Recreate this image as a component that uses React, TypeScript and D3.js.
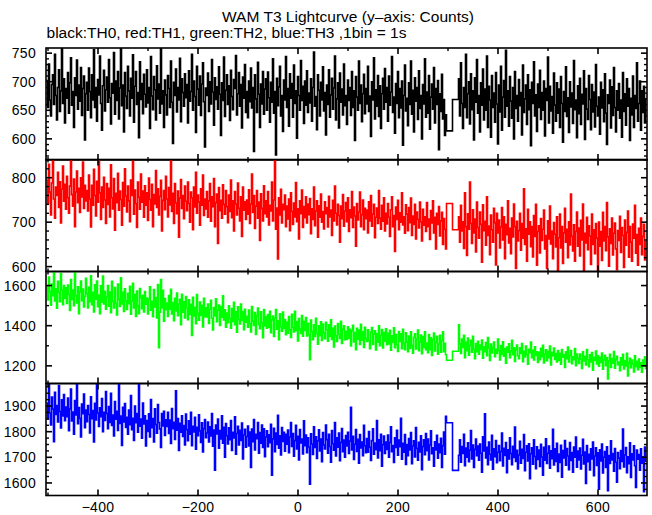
import React from "react";
import * as d3 from "d3";

// ---- data (counts per bin; bins of binSec seconds) ----
const binSec = 2;
const segAStart = -503;
const segBStart = 321;
const gapEdges = [297, 309, 321];
const xMajorTicks = [-400, -200, 0, 200, 400, 600];
const xMinorTicks = [-500, -300, -100, 100, 300, 500];

const th0SegA = [
  702, 655, 731, 668, 640, 695, 712, 660, 748, 676, 633, 690, 721, 648, 684, 759, 662, 705, 628, 688,
  671, 716, 645, 698, 742, 659, 683, 620, 707, 676, 738, 652, 694, 666, 725, 641, 688, 710, 598, 679,
  699, 650, 724, 683, 637, 712, 668, 756, 655, 690, 631, 704, 677, 745, 662, 615, 693, 720, 649, 686,
  708, 664, 739, 672, 626, 697, 680, 751, 643, 701, 667, 718, 635, 689, 759, 658, 694, 612, 716, 675,
  653, 727, 684, 640, 706, 671, 747, 629, 692, 718, 660, 681, 602, 735, 669, 697, 644, 713, 678, 656,
  721, 663, 690, 618, 744, 675, 651, 709, 686, 633, 728, 670, 696, 645, 759, 661, 684, 620, 703, 677,
  642, 711, 688, 655, 736, 664, 592, 699, 676, 722, 647, 690, 668, 741, 630, 705, 681, 657, 714, 672,
  695, 628, 719, 666, 683, 748, 650, 701, 674, 611, 727, 687, 659, 710, 641, 696, 733, 665, 586, 689,
  676, 715, 648, 700, 661, 739, 682, 624, 707, 669, 691, 652, 726, 678, 606, 698, 667, 743, 639, 685,
  712, 660, 693, 632, 720, 674, 651, 704, 688, 746, 642, 679, 716, 657, 695, 619, 708, 671, 730, 646,
  683, 637, 701, 665, 724, 654, 690, 578, 712, 670, 646, 734, 678, 620, 696, 661, 718, 643, 687, 705,
  650, 717, 672, 629, 699, 664, 740, 645, 683, 572, 706, 658, 691, 727, 640, 676, 613, 703, 668, 744,
  655, 688, 622, 714, 671, 697, 638, 729, 662, 684, 601, 709, 676, 650, 737, 667, 692, 627, 701, 659,
  719, 646, 680, 663, 705, 631, 690, 752, 657, 674, 616, 712, 685, 640, 699, 668, 726, 649, 681, 607,
  694, 660, 721, 638, 677, 706, 652, 689, 745, 633, 670, 698, 619, 715, 664, 687, 642, 731, 658, 676,
  625, 703, 667, 690, 641, 718, 655, 684, 597, 709, 673, 650, 736, 662, 694, 630, 679, 713, 644, 688,
  661, 727, 648, 675, 604, 700, 668, 742, 635, 686, 657, 711, 639, 693, 618, 679, 706, 652, 723, 664,
  690, 631, 710, 659, 682, 744, 646, 673, 610, 697, 662, 718, 637, 688, 654, 701, 589, 676, 729, 649,
  671, 623, 698, 660, 736, 643, 685, 612, 707, 666, 690, 634, 719, 653, 676, 600, 695, 661, 740, 638,
  682, 645, 711, 617, 673, 696, 652, 725, 628, 688, 660, 702, 581, 679, 648, 713, 635, 669, 606, 642,
];
const th0Gap = [614, 669];
const th0SegB = [
  705, 640, 733, 662, 618, 690, 655, 748, 637, 679, 700, 626, 714, 651, 684, 598, 707, 664, 739, 645,
  676, 612, 698, 659, 722, 633, 687, 650, 745, 620, 692, 668, 603, 711, 655, 680, 629, 716, 661, 591,
  694, 647, 727, 615, 673, 702, 638, 755, 657, 684, 622, 709, 666, 636, 690, 600, 718, 653, 676, 631,
  704, 658, 681, 607, 729, 646, 670, 694, 625, 712, 651, 686, 588, 699, 662, 735, 640, 677, 613, 696,
  655, 720, 634, 681, 650, 701, 605, 688, 667, 743, 628, 692, 649, 674, 610, 715, 659, 631, 698, 645,
  687, 620, 709, 662, 594, 683, 648, 726, 639, 672, 611, 700, 656, 680, 627, 737, 651, 668, 602, 693,
  644, 706, 625, 678, 661, 719, 599, 688, 652, 634, 711, 669, 616, 695, 647, 682, 621, 730, 657, 640,
  673, 608, 699, 654, 686, 630, 714, 645, 590, 677, 662, 703, 619, 691, 641, 725, 655, 612, 684, 650,
  697, 636, 668, 603, 716, 648, 679, 624, 705, 657, 688, 597, 671, 642, 710, 620, 676, 653, 733, 631,
  662, 701, 615, 684, 646, 692, 628, 670,
];

const th1SegA = [
  795, 742, 830, 768, 716, 788, 841, 752, 709, 779, 760, 812, 733, 791, 698, 774, 826, 747, 785, 729,
  803, 755, 720, 781, 841, 762, 736, 797, 690, 768, 815, 744, 776, 722, 800, 757, 835, 731, 783, 748,
  771, 725, 806, 752, 689, 783, 738, 819, 760, 714, 792, 745, 841, 766, 706, 779, 733, 801, 750, 697,
  787, 740, 776, 712, 829, 755, 730, 798, 682, 765, 744, 810, 727, 770, 751, 693, 789, 736, 820, 759,
  723, 781, 748, 701, 795, 760, 837, 718, 772, 742, 688, 790, 756, 729, 808, 745, 770, 711, 782, 738,
  766, 704, 799, 751, 727, 785, 690, 762, 741, 816, 733, 775, 716, 758, 794, 680, 749, 771, 728, 803,
  752, 712, 778, 739, 841, 724, 765, 697, 787, 743, 719, 770, 666, 754, 796, 731, 760, 708, 781, 747,
  726, 790, 742, 700, 768, 755, 683, 779, 734, 812, 720, 761, 745, 693, 775, 738, 806, 715, 752, 730,
  769, 711, 748, 787, 702, 757, 735, 798, 690, 744, 763, 652, 778, 726, 749, 709, 784, 740, 718, 771,
  735, 699, 761, 724, 795, 710, 748, 680, 769, 741, 716, 788, 731, 703, 757, 668, 779, 727, 746, 706,
  750, 718, 773, 697, 741, 808, 722, 760, 686, 736, 771, 709, 745, 659, 764, 731, 703, 782, 719, 748,
  712, 769, 694, 738, 725, 790, 703, 750, 841, 684, 732, 617, 755, 716, 774, 698, 740, 728, 761, 690,
  736, 707, 752, 681, 766, 724, 695, 743, 712, 789, 701, 730, 662, 748, 719, 772, 688, 735, 710, 757,
  698, 741, 717, 753, 674, 730, 706, 779, 692, 725, 748, 666, 737, 711, 763, 700, 724, 685, 746, 719,
  733, 689, 758, 712, 727, 670, 749, 703, 781, 720, 694, 740, 715, 655, 736, 708, 762, 691, 725, 744,
  701, 755, 679, 728, 710, 769, 688, 734, 714, 646, 742, 705, 723, 768, 690, 717, 750, 683, 731, 708,
  727, 676, 746, 703, 760, 691, 718, 740, 665, 711, 732, 697, 771, 709, 684, 738, 702, 755, 680, 720,
  696, 742, 711, 668, 728, 757, 690, 715, 634, 734, 706, 749, 683, 721, 700, 766, 694, 712, 675, 739,
  718, 681, 733, 699, 754, 670, 714, 695, 740, 662, 723, 706, 687, 745, 701, 658, 729, 693, 712, 679,
  744, 690, 707, 661, 726, 698, 748, 676, 711, 640, 720, 695, 735, 669, 703, 722, 650, 708, 684, 640,
];
const th1Gap = [742, 683];
const th1SegB = [
  712, 655, 738, 680, 701, 641, 766, 690, 625, 719, 684, 790, 697, 652, 728, 676, 707, 633, 745, 688,
  664, 723, 695, 610, 739, 681, 702, 648, 757, 670, 691, 627, 716, 683, 655, 731, 699, 604, 720, 676,
  705, 642, 689, 733, 660, 712, 618, 695, 672, 748, 653, 686, 629, 709, 667, 741, 690, 596, 702, 658,
  681, 720, 637, 697, 664, 775, 650, 685, 612, 729, 673, 701, 645, 690, 622, 715, 668, 740, 603, 679,
  692, 631, 708, 659, 684, 727, 640, 670, 596, 703, 662, 736, 651, 680, 618, 699, 673, 644, 712, 590,
  665, 718, 642, 690, 607, 676, 731, 655, 684, 620, 701, 649, 763, 668, 635, 694, 612, 679, 723, 646,
  687, 624, 704, 660, 741, 592, 675, 653, 711, 638, 692, 669, 605, 718, 650, 683, 629, 697, 664, 589,
  700, 646, 679, 614, 722, 658, 690, 636, 744, 667, 601, 685, 652, 709, 626, 675, 698, 640, 593, 681,
  659, 713, 632, 688, 670, 598, 705, 648, 677, 725, 621, 690, 655, 612, 696, 664, 738, 630, 672, 603,
  686, 650, 709, 627, 668, 695, 615, 657,
];

const th2SegA = [
  1595, 1528, 1642, 1570, 1502, 1608, 1549, 1670, 1523, 1584, 1487, 1621, 1566, 1520, 1660, 1578, 1505, 1600, 1537, 1589,
  1511, 1603, 1556, 1476, 1630, 1531, 1577, 1499, 1664, 1550, 1513, 1594, 1460, 1568, 1622, 1525, 1582, 1493, 1547, 1636,
  1560, 1488, 1591, 1520, 1649, 1505, 1566, 1468, 1604, 1532, 1622, 1495, 1553, 1460, 1599, 1517, 1647, 1508, 1571, 1482,
  1545, 1600, 1497, 1568, 1465, 1621, 1521, 1489, 1590, 1512, 1453, 1607, 1530, 1496, 1638, 1508, 1567, 1471, 1584, 1524,
  1481, 1562, 1510, 1596, 1457, 1523, 1611, 1488, 1555, 1446, 1572, 1500, 1460, 1585, 1540, 1485, 1551, 1469, 1570, 1507,
  1538, 1459, 1532, 1594, 1477, 1521, 1445, 1580, 1493, 1540, 1438, 1605, 1290, 1467, 1630, 1488, 1576, 1422, 1535, 1480,
  1513, 1446, 1550, 1482, 1581, 1458, 1515, 1425, 1537, 1473, 1563, 1450, 1508, 1531, 1405, 1556, 1467, 1519, 1439, 1545,
  1488, 1430, 1529, 1456, 1507, 1352, 1541, 1449, 1492, 1410, 1555, 1463, 1427, 1518, 1451, 1502, 1394, 1536, 1445, 1489,
  1443, 1508, 1411, 1482, 1526, 1437, 1379, 1490, 1448, 1534, 1420, 1477, 1503, 1401, 1496, 1442, 1549, 1428, 1479, 1392,
  1463, 1415, 1499, 1436, 1388, 1485, 1421, 1517, 1405, 1469, 1367, 1494, 1430, 1409, 1508, 1426, 1471, 1380, 1482, 1418,
  1447, 1393, 1478, 1411, 1369, 1496, 1422, 1401, 1465, 1356, 1450, 1488, 1406, 1385, 1469, 1415, 1340, 1480, 1399, 1446,
  1388, 1455, 1392, 1472, 1365, 1429, 1448, 1346, 1437, 1481, 1383, 1424, 1330, 1459, 1395, 1373, 1468, 1386, 1430, 1355,
  1418, 1362, 1446, 1380, 1341, 1457, 1391, 1369, 1472, 1375, 1419, 1324, 1436, 1383, 1361, 1450, 1348, 1422, 1376, 1440,
  1349, 1412, 1355, 1230, 1428, 1371, 1330, 1405, 1347, 1437, 1362, 1308, 1399, 1351, 1420, 1326, 1408, 1364, 1335, 1417,
  1380, 1323, 1404, 1346, 1429, 1331, 1387, 1294, 1398, 1350, 1322, 1411, 1356, 1337, 1422, 1311, 1383, 1400, 1330, 1372,
  1331, 1395, 1338, 1382, 1299, 1374, 1402, 1319, 1366, 1280, 1387, 1333, 1378, 1306, 1407, 1328, 1371, 1292, 1392, 1336,
  1322, 1379, 1325, 1286, 1368, 1391, 1307, 1357, 1375, 1279, 1361, 1318, 1400, 1300, 1354, 1381, 1289, 1366, 1323, 1384,
  1305, 1362, 1309, 1377, 1278, 1350, 1316, 1389, 1290, 1356, 1305, 1272, 1371, 1321, 1359, 1286, 1382, 1314, 1280, 1365,
  1318, 1271, 1349, 1287, 1370, 1302, 1263, 1342, 1360, 1284, 1335, 1378, 1276, 1319, 1353, 1260, 1346, 1292, 1369, 1281,
  1314, 1265, 1356, 1280, 1340, 1252, 1331, 1363, 1274, 1317, 1347, 1258, 1309, 1352, 1268, 1325, 1369, 1270, 1312, 1255,
];
const th2Gap = [1228, 1273];
const th2SegB = [
  1405, 1310, 1262, 1334, 1291, 1352, 1240, 1318, 1276, 1339, 1253, 1300, 1327, 1268, 1347, 1282, 1235, 1311, 1270, 1322,
  1258, 1304, 1280, 1329, 1238, 1295, 1271, 1316, 1250, 1341, 1289, 1227, 1308, 1264, 1292, 1318, 1245, 1283, 1262, 1333,
  1276, 1229, 1301, 1257, 1320, 1248, 1286, 1213, 1294, 1268, 1310, 1241, 1275, 1327, 1255, 1290, 1222, 1281, 1303, 1250,
  1235, 1290, 1262, 1311, 1221, 1273, 1244, 1299, 1256, 1208, 1283, 1265, 1318, 1240, 1278, 1229, 1295, 1252, 1270, 1217,
  1268, 1231, 1287, 1245, 1302, 1214, 1259, 1280, 1226, 1273, 1241, 1298, 1204, 1266, 1250, 1289, 1232, 1261, 1219, 1276,
  1227, 1262, 1208, 1281, 1243, 1255, 1192, 1270, 1236, 1293, 1219, 1251, 1276, 1211, 1245, 1230, 1286, 1201, 1259, 1238,
  1212, 1259, 1233, 1187, 1270, 1224, 1248, 1205, 1281, 1230, 1196, 1255, 1219, 1266, 1178, 1242, 1227, 1274, 1209, 1250,
  1198, 1243, 1217, 1264, 1183, 1229, 1252, 1201, 1240, 1135, 1225, 1258, 1192, 1236, 1213, 1271, 1188, 1231, 1247, 1206,
  1219, 1176, 1240, 1204, 1257, 1185, 1226, 1199, 1262, 1150, 1215, 1238, 1191, 1229, 1208, 1170, 1250, 1196, 1222, 1181,
  1234, 1192, 1215, 1168, 1229, 1201, 1245, 1186,
];

const th3SegA = [
  1912, 1850, 1988, 1873, 1826, 1935, 1888, 1761, 1954, 1867, 1902, 1838, 1980, 1879, 1815, 1924, 1861, 1945, 1843, 1896,
  1858, 1931, 1804, 1889, 1966, 1842, 1877, 1790, 1921, 1865, 1988, 1831, 1894, 1852, 1779, 1908, 1870, 1947, 1816, 1884,
  1839, 1902, 1867, 1795, 1936, 1851, 1882, 1760, 1911, 1846, 1988, 1873, 1820, 1893, 1858, 1929, 1800, 1876, 1844, 1957,
  1871, 1812, 1898, 1836, 1950, 1824, 1865, 1783, 1918, 1849, 1880, 1805, 1988, 1832, 1861, 1746, 1895, 1838, 1910, 1817,
  1856, 1790, 1884, 1827, 1941, 1808, 1852, 1766, 1900, 1835, 1871, 1798, 1988, 1821, 1849, 1775, 1912, 1830, 1862, 1744,
  1843, 1801, 1870, 1779, 1925, 1816, 1851, 1760, 1889, 1828, 1794, 1906, 1836, 1811, 1738, 1871, 1822, 1880, 1785, 1846,
  1820, 1876, 1793, 1845, 1754, 1890, 1812, 1837, 1770, 1960, 1806, 1851, 1727, 1833, 1798, 1862, 1781, 1824, 1748, 1869,
  1808, 1765, 1842, 1790, 1876, 1745, 1821, 1799, 1856, 1732, 1817, 1784, 1866, 1803, 1758, 1835, 1721, 1812, 1847, 1777,
  1795, 1838, 1760, 1819, 1783, 1871, 1743, 1806, 1650, 1826, 1791, 1849, 1736, 1804, 1772, 1862, 1755, 1817, 1700, 1832,
  1784, 1752, 1815, 1769, 1843, 1727, 1798, 1776, 1858, 1712, 1793, 1821, 1748, 1805, 1766, 1834, 1694, 1787, 1809, 1739,
  1781, 1822, 1744, 1799, 1660, 1810, 1761, 1847, 1729, 1790, 1773, 1836, 1716, 1797, 1755, 1826, 1738, 1811, 1702, 1779,
  1803, 1741, 1788, 1757, 1829, 1630, 1772, 1813, 1722, 1795, 1750, 1864, 1736, 1784, 1709, 1816, 1762, 1798, 1724, 1790,
  1751, 1806, 1718, 1779, 1836, 1742, 1793, 1704, 1765, 1825, 1733, 1782, 1690, 1808, 1756, 1771, 1713, 1842, 1745, 1787,
  1718, 1776, 1740, 1595, 1792, 1752, 1711, 1819, 1738, 1780, 1696, 1764, 1807, 1725, 1771, 1683, 1797, 1748, 1733, 1826,
  1769, 1716, 1790, 1742, 1681, 1804, 1753, 1728, 1836, 1705, 1776, 1739, 1795, 1687, 1758, 1812, 1722, 1767, 1700, 1785,
  1744, 1798, 1715, 1763, 1895, 1729, 1782, 1692, 1751, 1808, 1723, 1770, 1677, 1789, 1737, 1760, 1706, 1825, 1745, 1718,
  1773, 1720, 1801, 1739, 1688, 1765, 1811, 1712, 1756, 1730, 1843, 1698, 1768, 1726, 1790, 1665, 1749, 1783, 1715, 1760,
  1731, 1787, 1700, 1758, 1819, 1722, 1746, 1680, 1776, 1738, 1805, 1708, 1767, 1741, 1852, 1693, 1755, 1720, 1789, 1672,
  1750, 1706, 1773, 1729, 1797, 1675, 1744, 1764, 1701, 1816, 1735, 1689, 1759, 1721, 1784, 1652, 1742, 1768, 1710, 1793,
  1726, 1771, 1690, 1748, 1803, 1714, 1737, 1665, 1761, 1729, 1786, 1697, 1752, 1718, 1774, 1660, 1745, 1799, 1712, 1860,
];
const th3Gap = [1835, 1649];
const th3SegB = [
  1708, 1768, 1681, 1742, 1715, 1790, 1667, 1736, 1700, 1757, 1683, 1728, 1804, 1694, 1748, 1660, 1731, 1771, 1706, 1744,
  1689, 1752, 1716, 1642, 1780, 1725, 1870, 1698, 1739, 1671, 1760, 1712, 1690, 1786, 1654, 1733, 1702, 1765, 1679, 1720,
  1746, 1687, 1722, 1795, 1666, 1735, 1707, 1758, 1640, 1729, 1694, 1776, 1715, 1671, 1743, 1699, 1818, 1684, 1727, 1655,
  1709, 1762, 1677, 1731, 1696, 1789, 1648, 1720, 1745, 1686, 1753, 1617, 1714, 1737, 1673, 1768, 1703, 1656, 1741, 1692,
  1728, 1664, 1751, 1701, 1630, 1739, 1689, 1772, 1676, 1716, 1744, 1658, 1725, 1695, 1809, 1670, 1733, 1684, 1755, 1645,
  1713, 1680, 1747, 1622, 1726, 1698, 1765, 1669, 1734, 1705, 1652, 1758, 1688, 1719, 1642, 1740, 1700, 1779, 1661, 1724,
  1690, 1736, 1655, 1708, 1770, 1674, 1721, 1598, 1746, 1683, 1712, 1651, 1733, 1694, 1760, 1628, 1705, 1737, 1668, 1718,
  1576, 1729, 1686, 1752, 1639, 1700, 1722, 1660, 1741, 1570, 1707, 1676, 1764, 1690, 1715, 1646, 1734, 1681, 1603, 1719,
  1697, 1656, 1726, 1684, 1810, 1662, 1709, 1738, 1640, 1702, 1675, 1757, 1621, 1714, 1690, 1745, 1667, 1582, 1728, 1693,
  1711, 1650, 1733, 1677, 1702, 1566, 1740, 1685,
];

const yMajorTH0 = [600, 650, 700, 750];
const yMajorTH1 = [600, 700, 800];
const yMajorTH2 = [1200, 1400, 1600];
const yMajorTH3 = [1600, 1700, 1800, 1900];

const titleText = "WAM T3 Lightcurve (y\u2013axis: Counts)";
const subtitleText = "black:TH0, red:TH1, green:TH2, blue:TH3 ,1bin = 1s";

// ---- layout ----
const W = 652;
const H = 515;
const left = 46;
const right = 647;
const panelTops = [48, 159.5, 271.5, 383.5];
const panelH = 112;
const font = "'Liberation Sans', Arial, Helvetica, sans-serif";

type Bin = { x0: number; x1: number; v: number };

function buildBins(segA: number[], gap: number[], segB: number[]): Bin[] {
  const bins: Bin[] = [];
  segA.forEach((v, i) => {
    const x0 = segAStart + i * binSec;
    bins.push({ x0, x1: x0 + binSec, v });
  });
  gap.forEach((v, i) => bins.push({ x0: gapEdges[i], x1: gapEdges[i + 1], v }));
  segB.forEach((v, i) => {
    const x0 = segBStart + i * binSec;
    bins.push({ x0, x1: x0 + binSec, v });
  });
  return bins;
}

const panels = [
  { id: "th0", color: "#000000", bins: buildBins(th0SegA, th0Gap, th0SegB), domain: [563, 759], major: yMajorTH0, minorStep: 10 },
  { id: "th1", color: "#ff0000", bins: buildBins(th1SegA, th1Gap, th1SegB), domain: [589, 841], major: yMajorTH1, minorStep: 20 },
  { id: "th2", color: "#00ff00", bins: buildBins(th2SegA, th2Gap, th2SegB), domain: [1112, 1670], major: yMajorTH2, minorStep: 100 },
  { id: "th3", color: "#0000ff", bins: buildBins(th3SegA, th3Gap, th3SegB), domain: [1551, 1988], major: yMajorTH3, minorStep: 25 },
];

const x = d3.scaleLinear().domain([-504, 698]).range([left, right]);

export default function App() {
  return (
    <div style={{ position: "absolute", left: 0, top: 0, width: W, height: H, background: "#fff" }}>
      <svg width={W} height={H} style={{ display: "block" }}>
        <rect x={0} y={0} width={W} height={H} fill="#fff" />
        <text x={348} y={22} textAnchor="middle" fontFamily={font} fontSize={14} textLength={252} lengthAdjust="spacingAndGlyphs">
          {titleText}
        </text>
        <text x={46.5} y={38} fontFamily={font} fontSize={14} textLength={360} lengthAdjust="spacingAndGlyphs">
          {subtitleText}
        </text>
        <defs>
          {panels.map((p, i) => (
            <clipPath id={`clip-${p.id}`} key={p.id}>
              <rect x={left} y={panelTops[i]} width={right - left} height={panelH} />
            </clipPath>
          ))}
        </defs>
        {panels.map((p, i) => {
          const top = panelTops[i];
          const bottom = top + panelH;
          const y = d3.scaleLinear().domain(p.domain).range([bottom, top]);
          const pts: [number, number][] = [];
          p.bins.forEach((b) => {
            pts.push([x(b.x0), y(b.v)]);
            pts.push([x(b.x1), y(b.v)]);
          });
          const path = d3.line()(pts) || "";
          const minor = d3
            .range(Math.ceil(p.domain[0] / p.minorStep) * p.minorStep, p.domain[1], p.minorStep)
            .filter((v) => !p.major.includes(v));
          return (
            <g key={p.id}>
              <g clipPath={`url(#clip-${p.id})`}>
                <path d={path} fill="none" stroke={p.color} strokeWidth={1.6} strokeLinejoin="miter" />
              </g>
              <rect x={left} y={top} width={right - left} height={panelH} fill="none" stroke="#000" strokeWidth={1.6} />
              {p.major.map((v) => (
                <g key={`ym${v}`}>
                  <line x1={left} x2={left + 6} y1={y(v)} y2={y(v)} stroke="#000" strokeWidth={1.6} />
                  <line x1={right} x2={right - 6} y1={y(v)} y2={y(v)} stroke="#000" strokeWidth={1.6} />
                  <text x={36} y={y(v)} dy="0.36em" textAnchor="end" fontFamily={font} fontSize={14} letterSpacing={0.3}>
                    {v}
                  </text>
                </g>
              ))}
              {minor.map((v) => (
                <g key={`yn${v}`}>
                  <line x1={left} x2={left + 3} y1={y(v)} y2={y(v)} stroke="#000" strokeWidth={1.4} />
                  <line x1={right} x2={right - 3} y1={y(v)} y2={y(v)} stroke="#000" strokeWidth={1.4} />
                </g>
              ))}
              {xMajorTicks.map((v) => (
                <g key={`xm${v}`}>
                  <line x1={x(v)} x2={x(v)} y1={top} y2={top + 6} stroke="#000" strokeWidth={1.6} />
                  <line x1={x(v)} x2={x(v)} y1={bottom} y2={bottom - 6} stroke="#000" strokeWidth={1.6} />
                </g>
              ))}
              {xMinorTicks.map((v) => (
                <g key={`xn${v}`}>
                  <line x1={x(v)} x2={x(v)} y1={top} y2={top + 3} stroke="#000" strokeWidth={1.4} />
                  <line x1={x(v)} x2={x(v)} y1={bottom} y2={bottom - 3} stroke="#000" strokeWidth={1.4} />
                </g>
              ))}
            </g>
          );
        })}
        {xMajorTicks.map((v) => (
          <text key={`xl${v}`} x={x(v)} y={512} textAnchor="middle" fontFamily={font} fontSize={14} letterSpacing={0.3}>
            {v < 0 ? `\u2212${Math.abs(v)}` : `${v}`}
          </text>
        ))}
      </svg>
    </div>
  );
}
